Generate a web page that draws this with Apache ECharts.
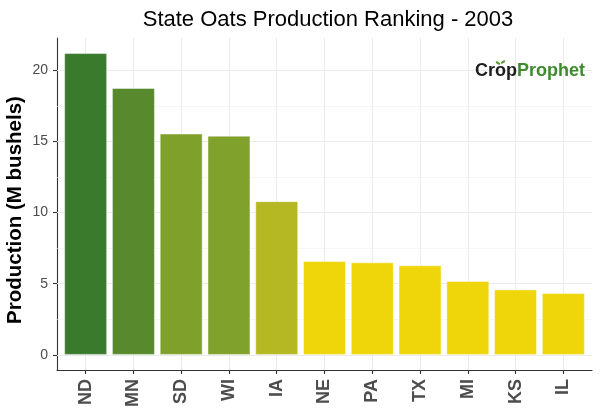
<!DOCTYPE html>
<html><head><meta charset="utf-8">
<script src="https://cdn.jsdelivr.net/npm/echarts@6/dist/echarts.min.js"></script>
<style>html,body{margin:0;background:#fff}#c{width:600px;height:420px}</style>
</head><body><div id="c"></div>
<script>
const states = ['ND','MN','SD','WI','IA','NE','PA','TX','MI','KS','IL'];
const production = [21.2, 18.75, 15.55, 15.4, 10.8, 6.6, 6.5, 6.3, 5.2, 4.6, 4.35];
const yTicks = [0, 5, 10, 15, 20];
const yMinorTicks = [2.5, 7.5, 12.5, 17.5];
const xPositions = states.map((s, i) => i);

const barColors = ['#397A2D','#588A2D','#7FA12C','#80A12B','#B5B823','#EFD60A','#EFD60A','#EFD60A','#EFD60A','#EFD60A','#EFD60A'];
const FONT = '"Liberation Sans", Arial, sans-serif';
const chart = echarts.init(document.getElementById('c'), null, {renderer: 'canvas'});

const gridLines = [];
xPositions.forEach(i => gridLines.push({xAxis: i, lineStyle: {color: '#EBEBEB', width: 1.1, type: 'solid'}}));
yTicks.forEach(v => gridLines.push({yAxis: v, lineStyle: {color: '#EBEBEB', width: 1.1, type: 'solid'}}));
yMinorTicks.forEach(v => gridLines.push({yAxis: v, lineStyle: {color: '#F0F0F0', width: 0.6, type: 'solid'}}));

chart.setOption({
  animation: false,
  title: {
    text: 'State Oats Production Ranking - 2003',
    left: 323, textAlign: 'center', top: 4,
    textStyle: {fontFamily: FONT, fontSize: 22, fontWeight: 'normal', color: '#000'}
  },
  grid: {left: 57, right: 8, top: 38, bottom: 50, containLabel: false, outerBoundsMode: 'none'},
  xAxis: {
    type: 'value', min: -0.6, max: 10.6,
    axisLine: {show: true, onZero: false, lineStyle: {color: '#333', width: 1.1}},
    axisTick: {show: true, length: 4, customValues: xPositions, lineStyle: {color: '#333', width: 1.1}},
    axisLabel: {customValues: xPositions, formatter: v => states[Math.round(v)], rotate: 90,
      fontSize: 18, fontWeight: 'bold', color: '#4D4D4D', margin: 9, fontFamily: FONT},
    splitLine: {show: false}
  },
  yAxis: {
    type: 'value', min: -1.06, max: 22.26,
    axisLine: {show: true, onZero: false, lineStyle: {color: '#333', width: 1.1}},
    axisTick: {show: true, length: 4, customValues: yTicks, lineStyle: {color: '#333', width: 1.1}},
    axisLabel: {customValues: yTicks, fontSize: 14, color: '#4D4D4D', margin: 9, fontFamily: FONT},
    splitLine: {show: false},
    name: 'Production (M bushels)', nameLocation: 'middle', nameGap: 31, nameMoveOverlap: false,
    nameTextStyle: {fontSize: 20.5, fontWeight: 'bold', color: '#000', fontFamily: FONT, padding: [0, 12, 0, 0]}
  },
  graphic: [{
    type: 'text', left: 475, top: 62, z: 100,
    style: {
      text: '{a|Crop}{b|Prophet}',
      rich: {
        a: {fontSize: 18, fontWeight: 'bold', fill: '#1E1E1E', fontFamily: FONT},
        b: {fontSize: 18, fontWeight: 'bold', fill: '#3E8B2E', fontFamily: FONT}
      }
    }
  }, {
    type: 'ellipse', z: 100, shape: {cx: 498, cy: 63, rx: 2.6, ry: 1.3}, rotation: -0.6, originX: 498, originY: 63,
    style: {fill: '#5E9E3A'}
  }, {
    type: 'ellipse', z: 100, shape: {cx: 503, cy: 62, rx: 2.6, ry: 1.3}, rotation: 0.6, originX: 503, originY: 62,
    style: {fill: '#5E9E3A'}
  }],
  series: [
    {type: 'line', data: [], silent: true,
     markLine: {silent: true, symbol: 'none', z: 1, label: {show: false}, data: gridLines}},
    {type: 'bar', z: 2, barWidth: 43,
     data: production.map((v, i) => ({value: [i, v], itemStyle: {color: barColors[i], borderColor: 'rgba(255,255,255,0.45)', borderWidth: 1}}))}
  ]
});
</script></body></html>
